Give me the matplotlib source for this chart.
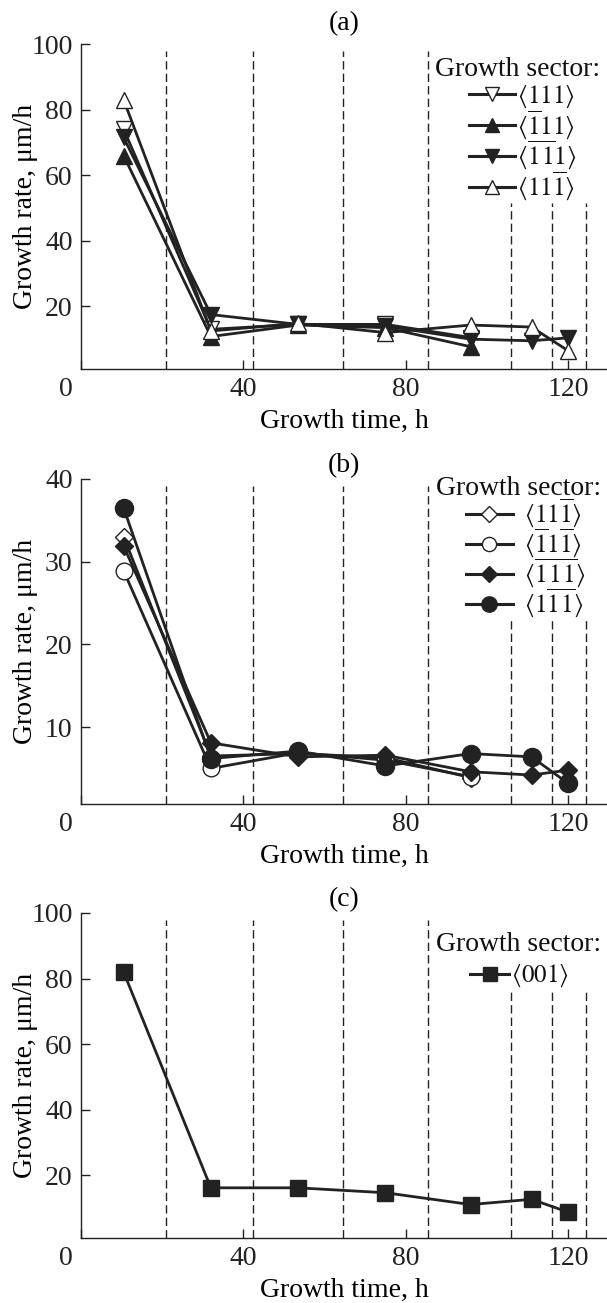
import matplotlib
matplotlib.use('Agg')
import matplotlib.pyplot as plt
from matplotlib.transforms import ScaledTranslation

plt.rcParams['font.family'] = ['Liberation Serif', 'DejaVu Serif']
plt.rcParams['mathtext.fontset'] = 'stix'

# ---------------- data ----------------
time_h = [10.5, 32, 53.5, 75, 96, 111, 120]
bound_tall = [21, 42.5, 64.5, 85.5]
bound_short = [106, 116, 124.5]

B = r'\overline{1}'
S = r'\hspace{0.1}'
# panel (a)
a_labels = [r'$\langle 111\rangle$', r'$\langle %s11\rangle$' % B,
            r'$\langle %s%s%s1\rangle$' % (B, S, B), r'$\langle 11%s\rangle$' % B]
a_111 = [74, 13, 14.5, 14.5, 10.5]
a_m111 = [66, 10.8, 14.3, 13.5, 7.7]
a_mm111 = [71.5, 17.5, 14.5, 14, 10, 9.5, 10.4]
a_11m1 = [83, 12.5, 14.8, 12, 14.3, 13.7, 6.5]

# panel (b)
b_labels = [r'$\langle 11%s\rangle$' % B, r'$\langle %s1%s\rangle$' % (B, B),
            r'$\langle %s%s%s%s%s\rangle$' % (B, S, B, S, B), r'$\langle 1%s%s%s\rangle$' % (B, S, B)]
b_11m1 = [33, 6.5, 6.8, 6.3, 3.9]
b_m11m1 = [28.9, 5.0, 6.9, 6.0, 4.0]
b_mmm = [31.9, 8.1, 6.4, 6.6, 4.6, 4.2, 4.8]
b_1mm = [36.5, 6.2, 7.1, 5.3, 6.8, 6.4, 3.2]

# panel (c)
c_labels = [r'$\langle 001\rangle$']
c_001 = [82, 16.2, 16.2, 14.7, 11.1, 12.7, 8.8]

C = '#222222'

fig = plt.figure(figsize=(6.07, 13.03), dpi=100)
L = 81 / 607
W = 1 - L
H = 325 / 1303
FS = 20
LFS = 18

def setup(ax, ylim, yticks, title, short_top, tpad):
    ax.set_xlim(0, 129.6)
    ax.set_ylim(*ylim)
    for s in ['top', 'right']:
        ax.spines[s].set_visible(False)
    for s in ['left', 'bottom']:
        ax.spines[s].set_linewidth(1.0)
        ax.spines[s].set_color(C)
    ax.set_xticks([0, 40, 80, 120])
    ax.set_yticks(yticks)
    ax.tick_params(direction='in', length=6.5, width=1.0, labelsize=FS, pad=6, colors=C)
    lab0 = ax.get_xticklabels()[0]
    lab0.set_transform(lab0.get_transform() + ScaledTranslation(-0.15, 0, fig.dpi_scale_trans))
    ax.set_xlabel('Growth time, h', fontsize=FS, labelpad=5)
    ax.set_ylabel('Growth rate, \u03bcm/h', fontsize=FS)
    ax.yaxis.set_label_coords(-0.082, 0.5)
    ax.set_title(title, fontsize=FS, pad=tpad)
    for x in bound_tall:
        ax.axvline(x, ymin=0, ymax=0.98, color=C, lw=1.0, ls=(0, (6, 3)), zorder=1)
    for x in bound_short:
        ax.axvline(x, ymin=0, ymax=short_top, color=C, lw=1.0, ls=(0, (6, 3)), zorder=1)

def series(ax, y, marker, filled, ms):
    ax.plot(time_h[:len(y)], y, color=C, lw=2.0, marker=marker, ms=ms,
            mfc=C if filled else 'white', mec=C, mew=1.0, zorder=3)

def legend(ax, labels, specs, title_y, rows_y, title_x, hx0, hx1, tx):
    """Legend drawn in axes-fraction coordinates (rows_y are row centres)."""
    ax.text(title_x, title_y, 'Growth sector:', transform=ax.transAxes,
            fontsize=FS, ha='left', va='center_baseline', color='#111111')
    for lab, (m, f, ms), y in zip(labels, specs, rows_y):
        ax.plot([hx0, hx1], [y, y], transform=ax.transAxes, color=C, lw=2.2,
                clip_on=False, zorder=4)
        ax.plot([(hx0 + hx1) / 2], [y], transform=ax.transAxes, marker=m, ms=ms,
                mfc=C if f else 'white', mec=C, mew=1.0, color=C, clip_on=False, zorder=5)
        ax.text(tx, y - 0.025, lab, transform=ax.transAxes, fontsize=LFS,
                ha='left', va='baseline', color='#111111')

# (a)
axa = fig.add_axes([L, 1 - 369 / 1303, W, H])
setup(axa, (0.9, 100), [20, 40, 60, 80, 100], '(a)', 0.51, 10)
a_specs = [('v', False, 12), ('^', True, 12), ('v', True, 12), ('^', False, 12)]
for y, (m, f, ms) in zip([a_111, a_m111, a_mm111, a_11m1], a_specs):
    series(axa, y, m, f, ms)
legend(axa, a_labels, [(m, f, 10) for (m, f, _) in a_specs],
       0.93, [0.845, 0.750, 0.655, 0.560], 0.673, 0.738, 0.825, 0.829)

# (b)
axb = fig.add_axes([L, 1 - 804 / 1303, W, H])
setup(axb, (0.7, 40), [10, 20, 30, 40], '(b)', 0.572, 5)
b_specs = [('D', False, 9), ('o', False, 12), ('D', True, 9), ('o', True, 13)]
for y, (m, f, ms) in zip([b_11m1, b_m11m1, b_mmm, b_1mm], b_specs):
    series(axb, y, m, f, ms)
legend(axb, b_labels, [(m, f, ms * 0.85) for (m, f, ms) in b_specs],
       0.98, [0.892, 0.800, 0.708, 0.616], 0.675, 0.732, 0.821, 0.842)

# (c)
axc = fig.add_axes([L, 1 - 1238 / 1303, W, H])
setup(axc, (0.9, 100), [20, 40, 60, 80, 100], '(c)', 0.763, 5)
series(axc, c_001, 's', True, 11)
legend(axc, c_labels, [('s', True, 10)], 0.911, [0.812], 0.675, 0.74, 0.814, 0.817)

fig.savefig('out.png', dpi=100)
